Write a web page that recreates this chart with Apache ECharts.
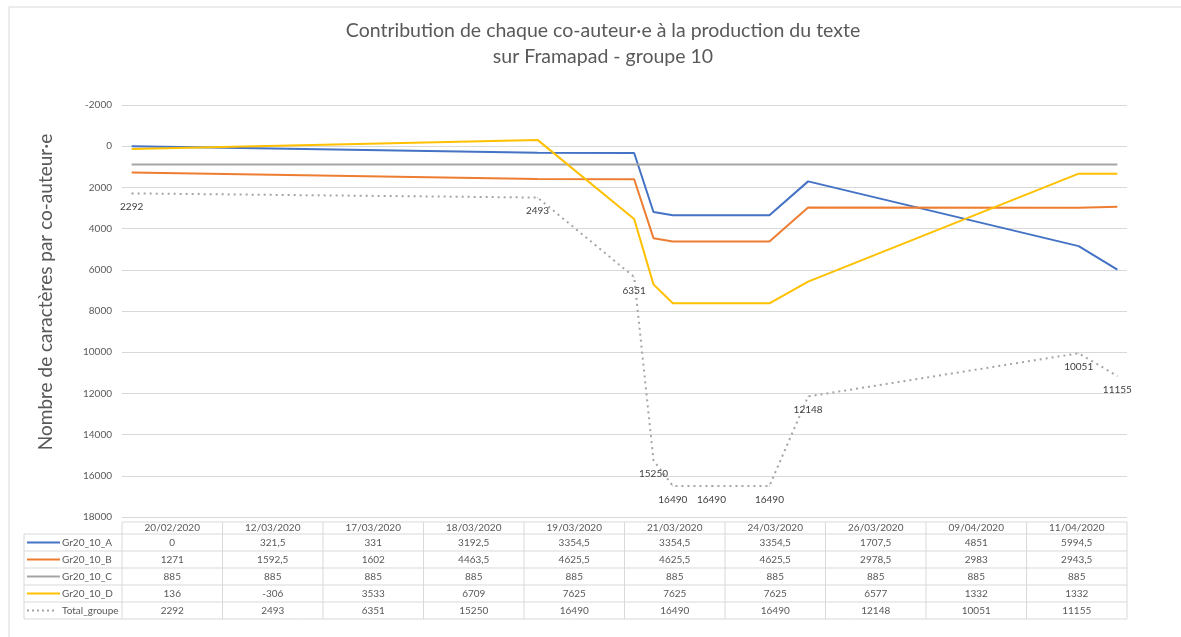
<!DOCTYPE html>
<html>
<head>
<meta charset="utf-8">
<script src="https://cdn.jsdelivr.net/npm/echarts@6/dist/echarts.min.js"></script>
<style>
  html, body { margin: 0; padding: 0; background: #fff; }
  #main { width: 1181px; height: 637px; }
</style>
</head>
<body>
<div id="main"></div>
<script>
// dates (x) and values per co-author
var dates = ['20/02/2020', '12/03/2020', '17/03/2020', '18/03/2020', '19/03/2020',
             '21/03/2020', '24/03/2020', '26/03/2020', '09/04/2020', '11/04/2020'];
var serieNames = ['Gr20_10_A', 'Gr20_10_B', 'Gr20_10_C', 'Gr20_10_D', 'Total_groupe'];
var valuesA = [0, 321.5, 331, 3192.5, 3354.5, 3354.5, 3354.5, 1707.5, 4851, 5994.5];
var valuesB = [1271, 1592.5, 1602, 4463.5, 4625.5, 4625.5, 4625.5, 2978.5, 2983, 2943.5];
var valuesC = [885, 885, 885, 885, 885, 885, 885, 885, 885, 885];
var valuesD = [136, -306, 3533, 6709, 7625, 7625, 7625, 6577, 1332, 1332];
var valuesTotal = [2292, 2493, 6351, 15250, 16490, 16490, 16490, 12148, 10051, 11155];
var colors = ['#4472C4', '#ED7D31', '#A5A5A5', '#FFC000', '#A5A5A5'];

var allValues = [valuesA, valuesB, valuesC, valuesD, valuesTotal];
var FONT = 'Lato, "Open Sans", sans-serif';
var TXT = '#595959';

function toTime(d) {
  var p = d.split('/');
  return Date.UTC(+p[2], +p[1] - 1, +p[0]);
}
var DAY = 86400000;
var times = dates.map(toTime);

// layout of the plot and of the data table
var gridLeft = 122, gridRight = 1127, gridTop = 105, gridBottom = 517;
var tableTop = 522, headerH = 12, rowH = 17, labelLeft = 24;
var colW = (gridRight - gridLeft) / dates.length;

var seriesList = allValues.map(function (vals, i) {
  var isTotal = i === 4;
  return {
    name: serieNames[i],
    type: 'line',
    data: vals.map(function (v, j) { return [times[j], v]; }),
    symbol: isTotal ? 'circle' : 'none',
    symbolSize: 1,
    showSymbol: isTotal,
    showAllSymbol: true,
    z: isTotal ? 1 : 2 + i,
    lineStyle: { color: colors[i], width: 2, type: isTotal ? [2, 4] : 'solid' },
    itemStyle: { color: colors[i] },
    label: isTotal ? {
      show: true, position: 'bottom', distance: 8,
      color: '#404040', fontSize: 10, fontFamily: FONT
    } : { show: false }
  };
});

// data table drawn as graphic elements
var g = [];
var stroke = '#D9D9D9';
function hline(x1, x2, y) {
  g.push({ type: 'line', shape: { x1: x1, y1: y, x2: x2, y2: y }, style: { stroke: stroke, lineWidth: 1 } });
}
function vline(x, y1, y2) {
  g.push({ type: 'line', shape: { x1: x, y1: y1, x2: x, y2: y2 }, style: { stroke: stroke, lineWidth: 1 } });
}
function text(str, x, y, align, size) {
  g.push({
    type: 'text', x: x, y: y,
    style: {
      text: str, fill: TXT, fontSize: size || 10, fontFamily: FONT,
      align: align || 'center', verticalAlign: 'middle',
      textAlign: align || 'center', textVerticalAlign: 'middle'
    }
  });
}
var tableBottom = tableTop + headerH + rowH * serieNames.length;
hline(gridLeft, gridRight, tableTop);
hline(labelLeft, gridRight, tableTop + headerH);
for (var r = 1; r <= serieNames.length; r++) {
  hline(labelLeft, gridRight, tableTop + headerH + rowH * r);
}
vline(labelLeft, tableTop + headerH, tableBottom);
for (var c = 0; c <= dates.length; c++) {
  vline(gridLeft + colW * c, tableTop, tableBottom);
}
dates.forEach(function (d, j) {
  text(d, gridLeft + colW * (j + 0.5), tableTop + headerH / 2, 'center', 10);
});
allValues.forEach(function (vals, i) {
  var cy = tableTop + headerH + rowH * (i + 0.5);
  var isTotal = i === 4;
  g.push({
    type: 'line',
    shape: { x1: 27, y1: cy, x2: isTotal ? 57 : 60, y2: cy },
    style: { stroke: colors[i], lineWidth: 2, lineDash: isTotal ? [2, 3] : null }
  });
  text(serieNames[i], 62, cy, 'left', 10);
  vals.forEach(function (v, j) {
    text(String(v).replace('.', ','), gridLeft + colW * (j + 0.5), cy, 'center', 10);
  });
});
// outer chart border (top and left visible)
g.push({ type: 'line', shape: { x1: 9, y1: 7, x2: 1181, y2: 7 }, style: { stroke: '#D9D9D9', lineWidth: 1 } });
g.push({ type: 'line', shape: { x1: 9, y1: 7, x2: 9, y2: 637 }, style: { stroke: '#D9D9D9', lineWidth: 1 } });
// axis title
g.push({
  type: 'text', x: 46, y: 292, rotation: Math.PI / 2,
  style: {
    text: 'Nombre de caractères par co-auteur·e', fill: TXT, fontSize: 19, fontFamily: FONT,
    align: 'center', verticalAlign: 'middle', textAlign: 'center', textVerticalAlign: 'middle'
  }
});

var option = {
  animation: false,
  backgroundColor: '#fff',
  title: {
    text: 'Contribution de chaque co-auteur·e à la production du texte\nsur Framapad - groupe 10',
    left: 598, textAlign: 'center', top: 13,
    textStyle: { color: TXT, fontSize: 19.5, fontWeight: 'normal', fontFamily: FONT, lineHeight: 26 }
  },
  grid: { left: gridLeft, top: gridTop, width: gridRight - gridLeft, height: gridBottom - gridTop },
  xAxis: {
    type: 'time',
    min: times[0] - DAY / 2,
    max: times[times.length - 1] + DAY / 2,
    show: false
  },
  yAxis: {
    type: 'value',
    inverse: true,
    min: -2000, max: 18000, interval: 2000,
    axisLine: { show: false },
    axisTick: { show: false },
    axisLabel: {
      color: TXT, fontSize: 10, fontFamily: FONT, margin: 10,
      formatter: function (v) { return String(v); }
    },
    splitLine: { lineStyle: { color: '#D9D9D9', width: 1 } }
  },
  series: seriesList,
  graphic: g
};

var chart = echarts.init(document.getElementById('main'));
chart.setOption(option);
</script>
</body>
</html>
